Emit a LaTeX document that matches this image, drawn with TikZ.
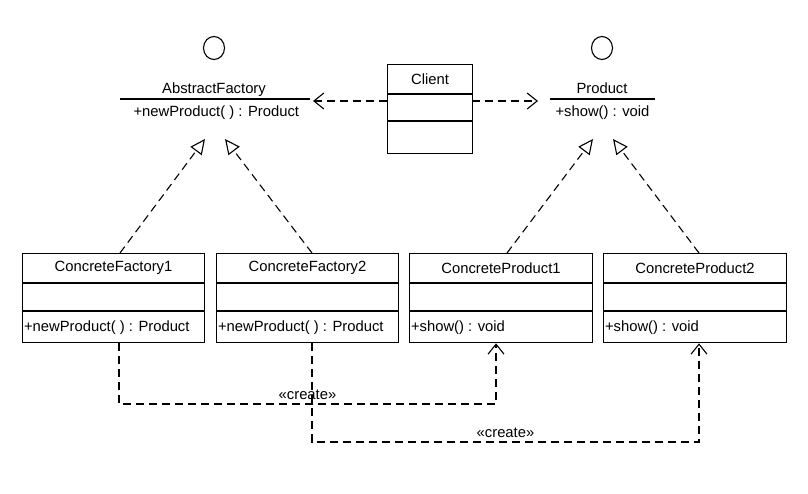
\documentclass[tikz,border=0pt]{standalone}
\usepackage{fontspec}
\setmainfont{Liberation Sans}
\usetikzlibrary{arrows.meta,shapes.geometric}

% A UML class: name, left x, top y, width, title, operation
\newcommand{\umlclass}[6]{%
  \node[sectbox, minimum width=#4pt, minimum height=29pt] (#1) at (#2,#3) {#5};
  \node[sectbox, minimum width=#4pt, minimum height=27pt] (#1-a) at (#1.south west) {};
  \node[sectbox, minimum width=#4pt, minimum height=31pt] (#1-m) at (#1-a.south west) {};
  \node[anchor=west, inner sep=0pt] (#1-op) at ([xshift=1.5pt]#1-m.west) {#6};
}

\begin{document}
\begin{tikzpicture}[x=1pt, y=-1pt,
  line width=1.1pt,
  every node/.style={font=\fontsize{14.8}{17}\selectfont},
  sectbox/.style={draw, rectangle, inner sep=0pt, anchor=north west},
  lollipop/.style={draw, ellipse, minimum width=21pt, minimum height=23pt, inner sep=0pt},
  dashline/.style={dash pattern=on 8pt off 5pt},
  depend/.style={dashline, -{Straight Barb[length=10pt,width=16pt,line width=1.1pt]}},
  realize/.style={dashline, -{Triangle[open,length=15pt,width=14pt,line width=1.1pt,fill=white]}}]

\useasboundingbox (0,0) rectangle (808,493);

% Interfaces
\node[lollipop] (af-c) at (214,48) {};
\node[anchor=base, inner sep=0pt] (af) at (214,93.5) {AbstractFactory};
\coordinate (af-l) at (120,99);
\coordinate (af-r) at (310,99);
\draw (af-l) -- (af-r);
\node[anchor=base west, inner sep=0pt] (af-op) at (133,116) {+newProduct( ) : Product};

\node[lollipop] (p-c) at (602,48) {};
\node[anchor=base, inner sep=0pt] (p) at (602,93.5) {Product};
\coordinate (p-l) at (550,99);
\coordinate (p-r) at (655,99);
\draw (p-l) -- (p-r);
\node[anchor=base west, inner sep=0pt] (p-op) at (555,116) {+show() : void};

% Client
\node[sectbox, minimum width=85pt, minimum height=29pt] (cl) at (387,64) {Client};
\node[sectbox, minimum width=85pt, minimum height=26pt] (cl-a) at (cl.south west) {};
\node[sectbox, minimum width=85pt, minimum height=32pt] (cl-m) at (cl-a.south west) {};

\coordinate (cl-w) at (387,101);
\coordinate (cl-e) at (472,101);
\coordinate (af-in) at (313,101);
\coordinate (p-in) at (538,101);
\draw[depend] (cl-w) -- (af-in);
\draw[depend] (cl-e) -- (p-in);

% Concrete classes
\umlclass{cf1}{22}{253}{182}{ConcreteFactory1}{+newProduct( ) : Product}
\umlclass{cf2}{216}{253}{182}{ConcreteFactory2}{+newProduct( ) : Product}
\umlclass{cp1}{409}{253}{183}{ConcreteProduct1}{+show() : void}
\umlclass{cp2}{603}{253}{183}{ConcreteProduct2}{+show() : void}

% Realizations
\coordinate (af-t1) at (205,139);
\coordinate (af-t2) at (225,139);
\coordinate (p-t1) at (593,139);
\coordinate (p-t2) at (613,139);
\draw[realize] (cf1.north west -| 120,0) -- (af-t1);
\draw[realize] (cf2.north west -| 312,0) -- (af-t2);
\draw[realize] (cp1.north west -| 507,0) -- (p-t1);
\draw[realize] (cp2.north west -| 699,0) -- (p-t2);

% Creation dependencies
\draw[depend] (cf1-m.south west -| 119,0) |- node[pos=0.75, above, inner sep=3.5pt] (cr1) {«create»} (496,404) -- (cp1-m.south west -| 496,0);
\draw[depend] (cf2-m.south west -| 312,0) |- node[pos=0.75, above, inner sep=3.5pt] (cr2) {«create»} (699,442) -- (cp2-m.south west -| 699,0);

\end{tikzpicture}
\end{document}
